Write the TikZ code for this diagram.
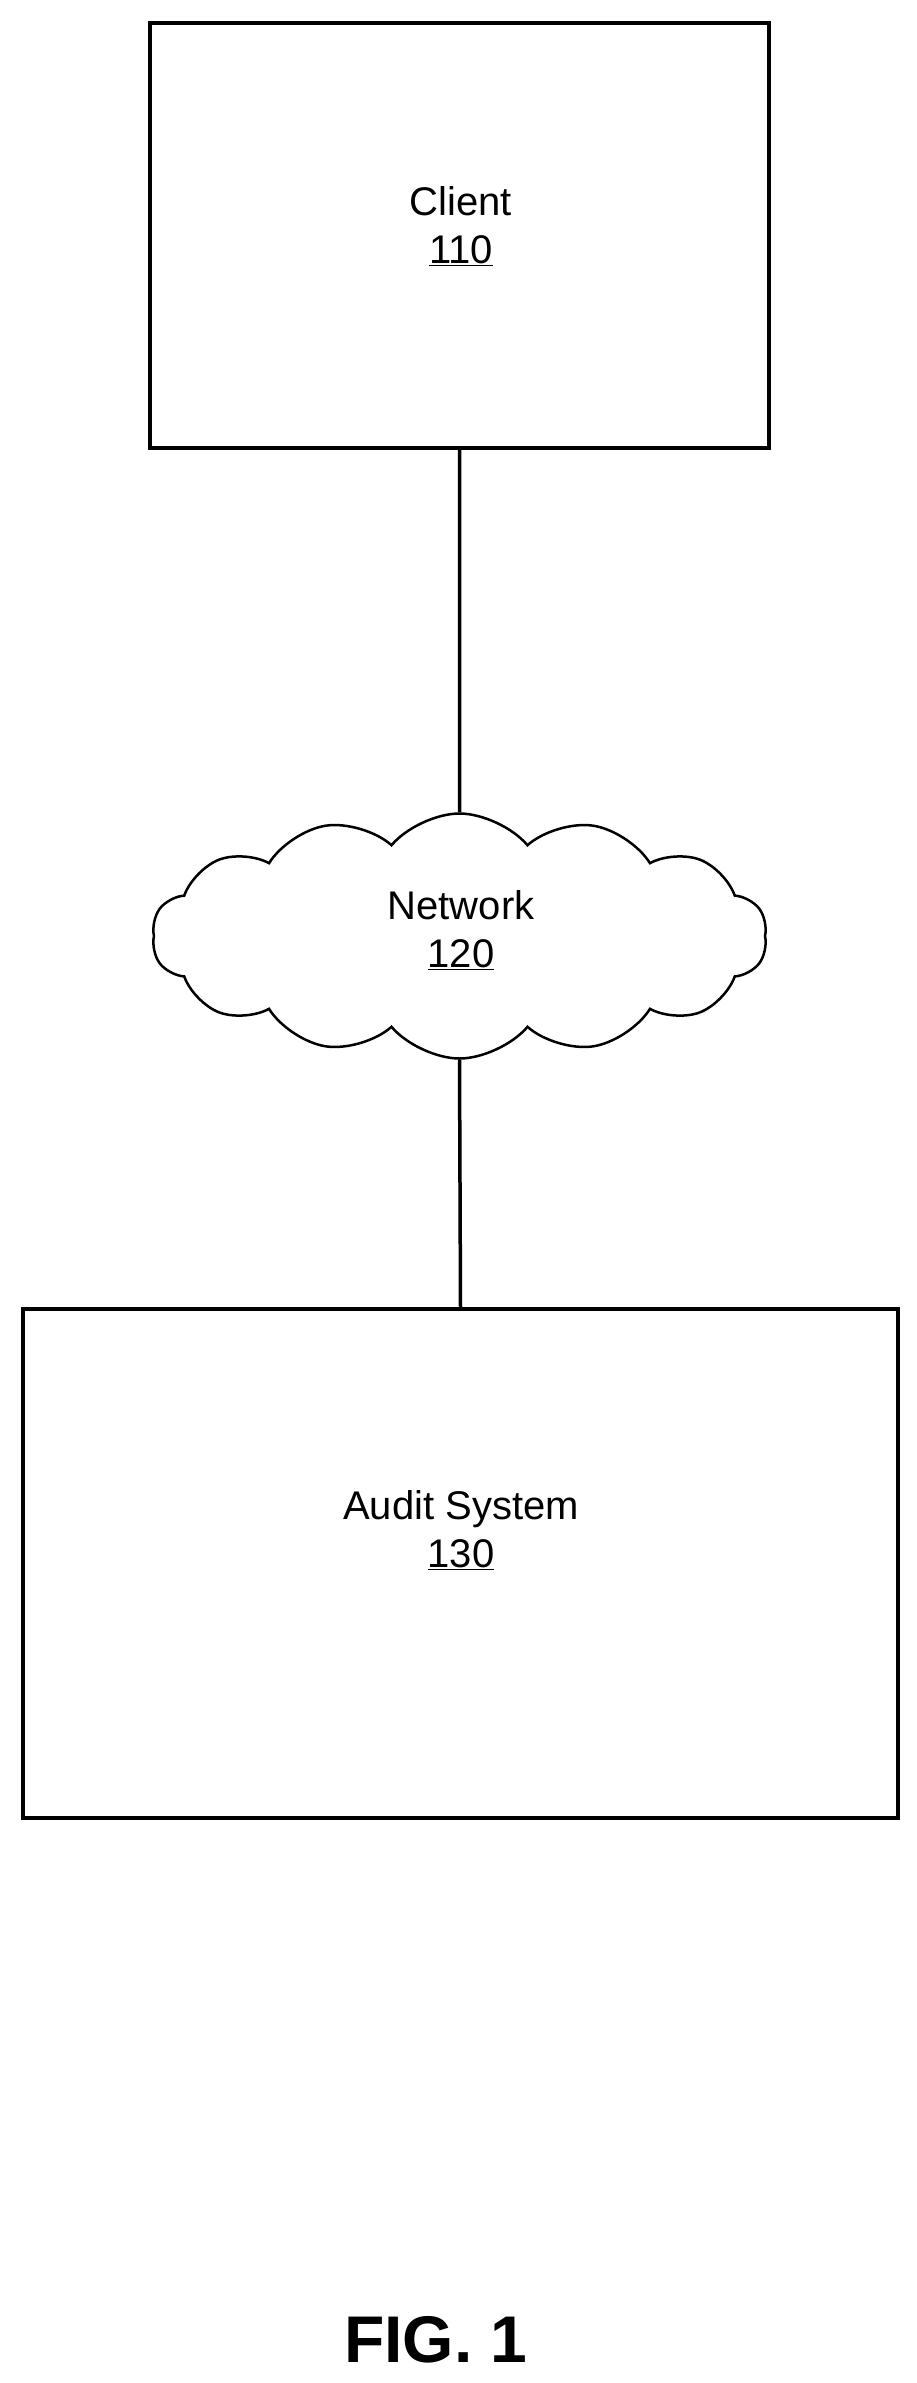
\documentclass[tikz,border=0pt]{standalone}
\usepackage{fontspec}
\setmainfont{Liberation Sans}
\usetikzlibrary{shapes.symbols}
\begin{document}
\begin{tikzpicture}[x=1pt,y=-1pt,
  box/.style={draw,line width=3.5pt,rectangle,inner sep=0pt},
  lbl/.style={font=\fontsize{40}{48}\selectfont,align=center},
  conn/.style={line width=3.5pt}]
\useasboundingbox[fill=white] (0,0) rectangle (917,2383);
\node[box,minimum width=619pt,minimum height=425pt] (client) at (459.5,235.5) {};
\node[lbl] (clientt) at (461,226) {Client\\\underline{110}};
\node[draw,line width=2.5pt,cloud,cloud puffs=14,cloud puff arc=100,aspect=2.6,minimum width=615pt,minimum height=245pt,inner sep=0pt] (net) at (459.5,936) {};
\node[lbl] (nett) at (461,930) {Network\\\underline{120}};
\node[box,minimum width=875pt,minimum height=509pt] (audit) at (460.5,1563.5) {};
\node[lbl] (auditt) at (461,1530) {Audit System\\\underline{130}};
\node[font=\bfseries\fontsize{66}{80}\selectfont] (fig) at (436,2340) {FIG. 1};
\draw[conn] (client.south) -- (net.north);
\draw[conn] (net.south) -- (audit.north);
\end{tikzpicture}
\end{document}
